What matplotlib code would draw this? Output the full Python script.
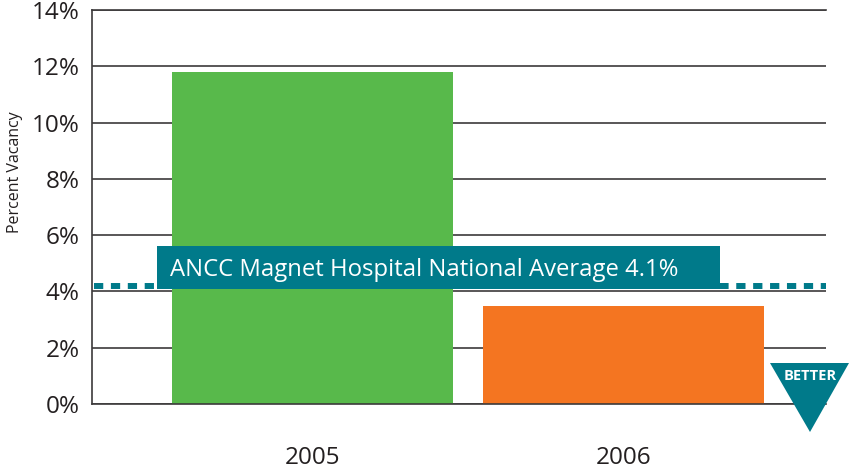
import matplotlib
matplotlib.use("Agg")
import matplotlib.pyplot as plt
from matplotlib.patches import Polygon, Rectangle

years = ["2005", "2006"]
vacancy = [11.8, 3.5]
bar_colors = ["#58B94B", "#F47521"]
ticks = [0, 2, 4, 6, 8, 10, 12, 14]
tick_labels = [f"{t}%" for t in ticks]
average_line = 4.19
average_label = "ANCC Magnet Hospital National Average 4.1%"
teal = "#007A8A"
ink = "#231F20"
W, H = 849, 466

plt.rcParams["font.family"] = ["Open Sans", "DejaVu Sans"]
fig = plt.figure(figsize=(W / 100, H / 100), dpi=100)
ax = fig.add_axes([92 / W, 1 - 404 / H, (826 - 92) / W, (404 - 10) / H])

positions = range(len(years))
ax.bar(positions, vacancy, width=0.9035, color=bar_colors, zorder=3)
ax.set_xlim(-0.709, 1.651)
ax.set_ylim(0, 14)
ax.set_yticks(ticks, tick_labels)
ax.set_xticks(list(positions), years)
ax.tick_params(axis="y", length=0, pad=9, labelsize=17.5, labelcolor=ink)
ax.tick_params(axis="x", length=0, pad=30, labelsize=17.5, labelcolor=ink)
ax.grid(axis="y", color="#3C3A3B", lw=1.2, zorder=1)
ax.set_axisbelow(True)
ax.spines["right"].set_visible(False)
for s in ("left", "top", "bottom"):
    ax.spines[s].set_color("#3C3A3B")
    ax.spines[s].set_linewidth(1.2)
ax.spines["bottom"].set_zorder(4)

fig.text(15 / W, 1 - 172 / H, "Percent Vacancy", rotation=90, ha="center",
         va="center", fontsize=11.5, color=ink)

ax.plot([-0.702, 1.651], [average_line] * 2, color=teal, lw=4.3,
        linestyle=(0, (1.55, 1.28)), dash_capstyle="butt", zorder=5, clip_on=False)

fig.add_artist(Rectangle((157 / W, 1 - 289 / H), (727 - 157) / W, 6 / H,
                         transform=fig.transFigure, color=teal, lw=0, zorder=6))
fig.add_artist(Rectangle((157 / W, 1 - 289 / H), (720 - 157) / W, 43 / H,
                         transform=fig.transFigure, color=teal, lw=0, zorder=6))
fig.text(170 / W, 1 - 270 / H, average_label, color="white", fontsize=17.2,
         ha="left", va="center", zorder=7)

fig.add_artist(Polygon([(770 / W, 1 - 363 / H), (849 / W, 1 - 363 / H), (810 / W, 1 - 432 / H)],
                       closed=True, transform=fig.transFigure, color=teal, lw=0, zorder=6))
fig.text(810 / W, 1 - 375.5 / H, "BETTER", color="white", fontsize=10.5,
         fontweight="bold", ha="center", va="center", zorder=7,
         fontstretch="condensed")

fig.savefig("out.png", dpi=100)
